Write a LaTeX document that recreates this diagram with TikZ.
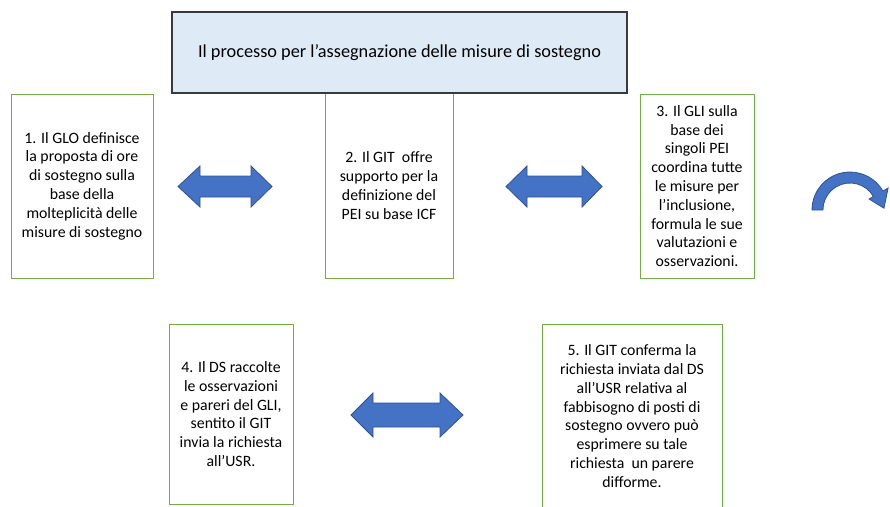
\documentclass[tikz,border=0pt]{standalone}
\usepackage{fontspec}
\setmainfont{Carlito}
\definecolor{boxgreen}{HTML}{70AD47}
\definecolor{titlefill}{HTML}{DEEBF7}
\definecolor{titleborder}{HTML}{3A3A3A}
\definecolor{arrowfill}{HTML}{4472C4}
\definecolor{arrowborder}{HTML}{2F528F}
\begin{document}
\begin{tikzpicture}[x=1pt,y=-1pt,
  stepbox/.style={draw=boxgreen, line width=1pt, fill=white, align=center, inner sep=0pt,
    font=\fontsize{15.8}{18.8}\selectfont},
  titlebox/.style={draw=titleborder, line width=1.2pt, fill=titlefill, align=center, inner sep=0pt,
    font=\fontsize{18.3}{22}\selectfont},
  blockarrow/.style={fill=arrowfill, draw=arrowborder, line width=0.8pt, line join=miter}]
\useasboundingbox (0,0) rectangle (890,506);
\clip (0,0) rectangle (890,506);

% step boxes
\node[stepbox, minimum width=142pt, minimum height=184pt] (s1) at (82,186)
  {1. Il GLO definisce\\la proposta di ore\\di sostegno sulla\\base della\\molteplicità delle\\misure di sostegno};
\node[stepbox, minimum width=128pt, minimum height=185pt] (s2) at (389,185.5)
  {2. Il GIT\ \ offre\\supporto per la\\definizione del\\PEI su base ICF};
\node[stepbox, minimum width=114pt, minimum height=184pt] (s3) at (697,186)
  {3. Il GLI sulla\\base dei\\singoli PEI\\coordina tutte\\le misure per\\l’inclusione,\\formula le sue\\valutazioni e\\osservazioni.};
\node[stepbox, minimum width=124pt, minimum height=180pt] (s4) at (231,414)
  {4. Il DS raccolte\\le osservazioni\\e pareri del GLI,\\sentito il GIT\\invia la richiesta\\all’USR.};
\node[stepbox, minimum width=180pt, minimum height=184pt] (s5) at (632,416)
  {5. Il GIT conferma la\\richiesta inviata dal DS\\all’USR relativa al\\fabbisogno di posti di\\sostegno ovvero può\\esprimere su tale\\richiesta\ \ un parere\\difforme.};

% title
\node[titlebox, minimum width=455pt, minimum height=81pt] (title) at (399.5,52.5)
  {Il processo per l’assegnazione delle misure di sostegno};

% double arrows
\draw[blockarrow] (178,186.5) -- (200,166) -- (200,176) -- (251,176) -- (251,166) -- (272,186.5)
  -- (251,207) -- (251,197) -- (200,197) -- (200,207) -- cycle;
\draw[blockarrow] (506,186.5) -- (527,166) -- (527,176) -- (582,176) -- (582,166) -- (602,186.5)
  -- (582,207) -- (582,197) -- (527,197) -- (527,207) -- cycle;
\draw[blockarrow] (351,415) -- (373,393) -- (373,403) -- (440,403) -- (440,393) -- (463,415)
  -- (440,437) -- (440,427) -- (373,427) -- (373,437) -- cycle;

% circular arrow
\begin{scope}[shift={(850,210)}]
\draw[blockarrow] (180:38) arc[start angle=180, end angle=330, radius=38]
  -- (330:44) -- (357:34) -- (330:22) -- (330:27)
  arc[start angle=330, end angle=180, radius=27] -- cycle;
\end{scope}
\end{tikzpicture}
\end{document}
